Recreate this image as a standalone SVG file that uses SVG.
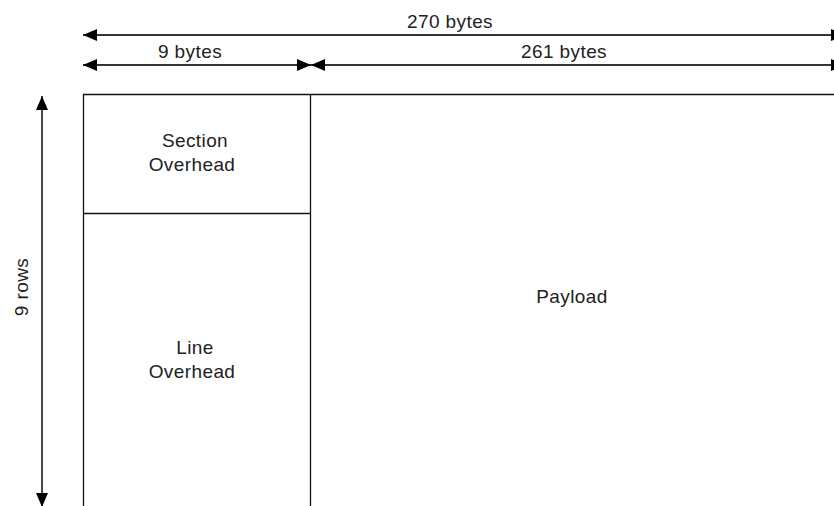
<svg xmlns="http://www.w3.org/2000/svg" width="834" height="506" viewBox="0 0 834 506">
<defs>
<style>
.lbl{font-family:"Liberation Sans",Arial,sans-serif;font-size:19px;letter-spacing:0.4px;fill:#222;text-anchor:middle}
.box{fill:none;stroke:#111;stroke-width:1.3}
.dim{fill:none;stroke:#333;stroke-width:1.8}
</style>
<marker id="ah" viewBox="0 0 14 12" markerWidth="14" markerHeight="12" refX="14" refY="6" orient="auto-start-reverse" markerUnits="userSpaceOnUse">
<path d="M0,0 L14,6 L0,12 z" fill="#000"/>
</marker>
</defs>
<rect width="834" height="506" fill="#fff"/>
<g id="frame">
<path class="box" d="M83.5,506 V94.5 H834"/>
</g>
<g id="section-overhead">
<path class="box" d="M83.5,213.5 H310.5"/>
<text class="lbl" x="195" y="147">Section</text>
<text class="lbl" x="192" y="171">Overhead</text>
</g>
<g id="line-overhead">
<path class="box" d="M310.5,94.5 V506"/>
<text class="lbl" x="195" y="354">Line</text>
<text class="lbl" x="192" y="378">Overhead</text>
</g>
<g id="payload">
<text class="lbl" x="572" y="303">Payload</text>
</g>
<g id="connectors">
<path class="dim" d="M83,35 H845" marker-start="url(#ah)" marker-end="url(#ah)"/>
<path class="dim" d="M83,65 H311" marker-start="url(#ah)" marker-end="url(#ah)"/>
<path class="dim" d="M311,65 H845" marker-start="url(#ah)" marker-end="url(#ah)"/>
<path class="dim" d="M42,96 V507" marker-start="url(#ah)" marker-end="url(#ah)"/>
</g>
<g id="labels">
<text class="lbl" x="450" y="28">270 bytes</text>
<text class="lbl" x="190" y="58">9 bytes</text>
<text class="lbl" x="564" y="58">261 bytes</text>
<text class="lbl" transform="translate(28,287) rotate(-90)">9 rows</text>
</g>
</svg>
